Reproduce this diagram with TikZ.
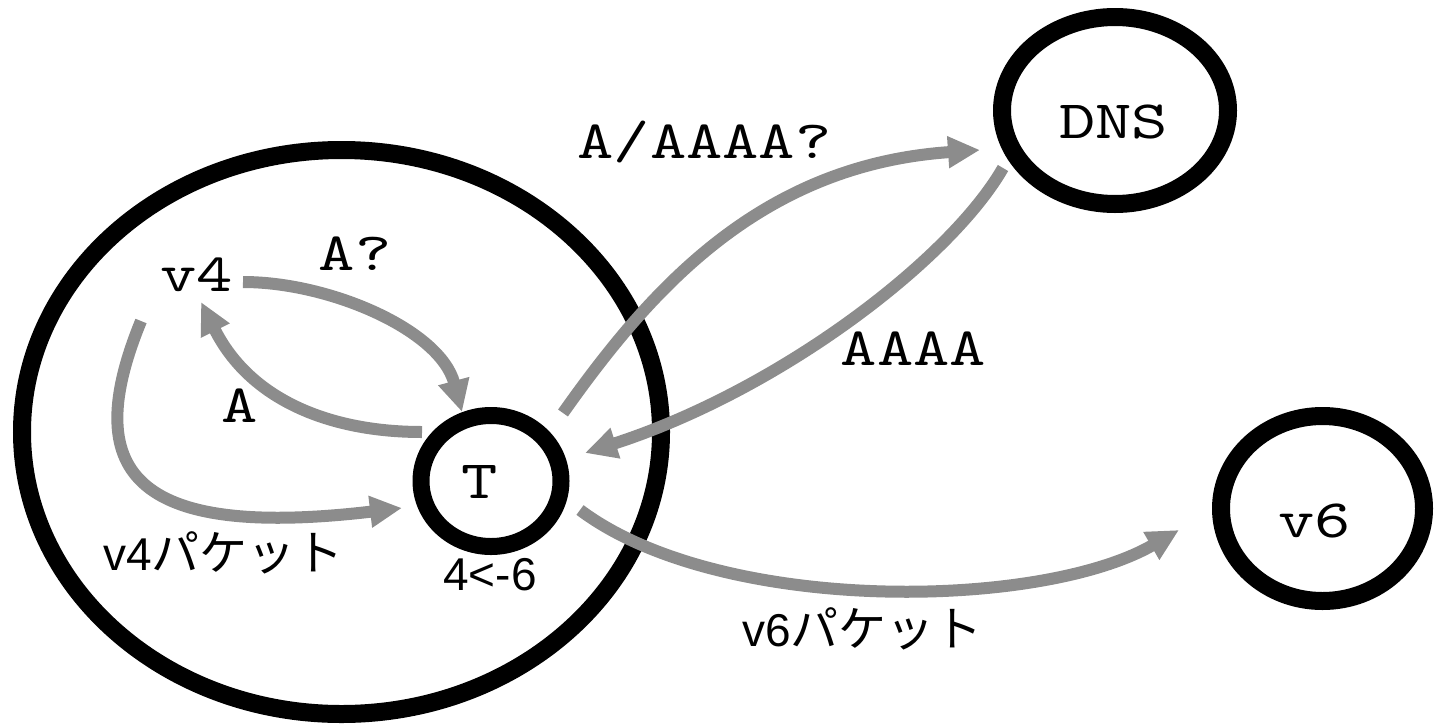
\documentclass[tikz,border=0pt]{standalone}
\usepackage{fontspec}
\setsansfont{Liberation Sans}
\newfontfamily\jpfont{Noto Sans CJK JP}
\newfontfamily\monofont{lmmono10-regular.otf}[FakeStretch=1.28]
\usetikzlibrary{arrows.meta,shapes.geometric}
\definecolor{arrowgray}{RGB}{140,140,140}
\newcommand\monotext{\fontsize{27pt}{30pt}\monofont}
\newcommand\sanstext{\fontsize{23pt}{26pt}\sffamily}
\newcommand\kana[1]{{\fontsize{24pt}{26pt}\jpfont #1}}
\begin{document}
\begin{tikzpicture}[x=0.5pt,y=-0.5pt,
  ring/.style={ellipse,draw,inner sep=0pt,line width=9pt},
  lbl/.style={inner sep=0pt,anchor=base,font=\monotext},
  slbl/.style={inner sep=0pt,anchor=base west,font=\sanstext},
  flow/.style={draw=arrowgray,line width=6pt,-{Triangle[length=16pt,width=15pt]}}
]
\useasboundingbox (0,0) rectangle (1434,723);
% rings
\node[ring,minimum width=319.5pt,minimum height=282pt] (net) at (341.5,432) {};
\node[ring,line width=8.5pt,minimum width=70pt,minimum height=65.5pt] (T) at (491,481) {};
\node[ring,minimum width=113pt,minimum height=93.5pt] (dns) at (1115,110.5) {};
\node[ring,minimum width=101.5pt,minimum height=92.5pt] (v6) at (1322.5,508.5) {};
% labels
\node[lbl] (v4) at (196.5,291) {v4};
\node[lbl] (Tl) at (480,498) {T};
\node[lbl] (dnsl) at (1113.5,138) {DNS};
\node[lbl] (v6l) at (1314.5,537) {v6};
\node[lbl] (qa) at (355,270) {A?};
\node[lbl] (ra) at (240,422) {A};
\node[lbl] (qaaaa) at (704.5,158) {A/AAAA?};
\node[lbl] (raaaa) at (913.5,365) {AAAA};
\node[slbl] (conv) at (443,590) {4<-6};
\node[slbl] (v4p) at (103,570) {v4\kana{パケット}};
\node[slbl] (v6p) at (742,646) {v6\kana{パケット}};
% connector end points
\coordinate (a1s) at (243,282); \coordinate (a1e) at (462,412);
\coordinate (a2s) at (422,432); \coordinate (a2e) at (201,302);
\coordinate (a3s) at (141,321); \coordinate (a3e) at (402,508);
\coordinate (a4s) at (563,413); \coordinate (a4e) at (980,150);
\coordinate (a5s) at (1003,168); \coordinate (a5e) at (585,453);
\coordinate (a6s) at (580,510); \coordinate (a6e) at (1179,530);
% arrows
\draw[flow] (a1s) .. controls (330,282) and (440,330) .. (a1e);
\draw[flow] (a2s) .. controls (330,432) and (250,400) .. (a2e);
\draw[flow] (a3s) .. controls (80,470) and (130,540) .. (a3e);
\draw[flow] (a4s) .. controls (650,290) and (760,165) .. (a4e);
\draw[flow] (a5s) .. controls (950,260) and (780,390) .. (a5e);
\draw[flow] (a6s) .. controls (720,615) and (1040,610) .. (a6e);
\end{tikzpicture}
\end{document}
